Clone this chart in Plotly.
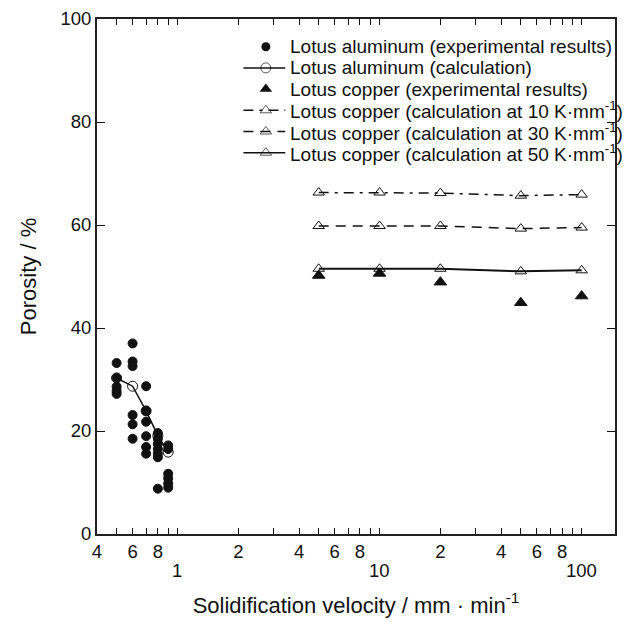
import math
import plotly.graph_objects as go

# ---- data ----
al_exp_x = [0.5]*5 + [0.6]*6 + [0.7]*6 + [0.8]*7 + [0.9]*6
al_exp_y = [33.2, 30.3, 28.6, 27.8, 27.2,
            37.0, 33.5, 32.6, 23.1, 21.3, 18.5,
            28.7, 23.9, 21.8, 19.0, 16.9, 15.6,
            19.6, 18.5, 17.5, 16.5, 15.6, 14.9, 8.8,
            17.2, 16.5, 11.7, 10.8, 9.8, 9.0]
al_calc_x = [0.5, 0.6, 0.7, 0.8, 0.9]
al_calc_y = [30.3, 28.7, 23.9, 19.1, 15.9]

cu_x = [5, 10, 20, 50, 100]
cu_exp_y = [50.2, 50.6, 48.9, 44.9, 46.2]
cu_10k_y = [66.3, 66.3, 66.2, 65.7, 65.9]
cu_30k_y = [59.8, 59.8, 59.8, 59.3, 59.5]
cu_50k_y = [51.5, 51.5, 51.5, 51.0, 51.2]

label_vals = [0.4, 0.6, 0.8, 2, 4, 6, 8, 20, 40, 60, 80]
label_text = ["4", "6", "8", "2", "4", "6", "8", "2", "4", "6", "8"]
minor_vals = [0.5, 0.7, 0.9, 1, 3, 5, 7, 9, 10, 30, 50, 70, 90, 100]
decade_vals = [1, 10, 100]
decade_text = ["1", "10", "100"]

legend_names = [
    "Lotus aluminum (experimental results)",
    "Lotus aluminum (calculation)",
    "Lotus copper (experimental results)",
    "Lotus copper (calculation at 10 K\u00b7mm<sup>-1</sup>)",
    "Lotus copper (calculation at 30 K\u00b7mm<sup>-1</sup>)",
    "Lotus copper (calculation at 50 K\u00b7mm<sup>-1</sup>)",
]

FONT = "Liberation Sans, Arial, Helvetica, sans-serif"
BLACK = "#111111"
DASHDOT = "10px,6px,3px,6px"
DASH = "10px,7px"

# style per legend entry: (line dash or None, line width, marker symbol, marker size)
styles = [
    (None, 0, "circle", 9),
    ("solid", 1.5, "circle-open", 10),
    (None, 0, "triangle-up", 11),
    (DASHDOT, 1.5, "triangle-up-open", 10),
    (DASH, 1.5, "triangle-up-open", 10),
    ("solid", 2, "triangle-up-open", 10),
]

fig = go.Figure()

series = [
    (al_exp_x, al_exp_y, 0),
    (al_calc_x, al_calc_y, 1),
    (cu_x, cu_exp_y, 2),
    (cu_x, cu_10k_y, 3),
    (cu_x, cu_30k_y, 4),
    (cu_x, cu_50k_y, 5),
]
draw_order = [1, 0, 2, 3, 4, 5]
for i in draw_order:
    xs, ys, k = series[i]
    dash, lw, sym, ms = styles[k]
    mode = "markers" if dash is None else "lines+markers"
    kw = dict(x=xs, y=ys, mode=mode, name=legend_names[k], showlegend=False,
              marker=dict(symbol=sym, size=ms, color=BLACK,
                          line=dict(width=1, color=BLACK)))
    if dash is not None:
        kw["line"] = dict(color=BLACK, width=lw, dash=dash)
    fig.add_trace(go.Scatter(**kw))

# ---- hand-made legend on an overlay axis in pixel units ----
LEG_X0, LEG_XM, LEG_X1, LEG_TX = 244, 266.5, 286, 289
LEG_Y0, LEG_DY = 44, 21.4
for k, name in enumerate(legend_names):
    dash, lw, sym, ms = styles[k]
    yy = LEG_Y0 + k * LEG_DY
    if dash is None:
        fig.add_trace(go.Scatter(x=[LEG_XM], y=[yy], mode="markers", xaxis="x2", yaxis="y2",
                                 showlegend=False, hoverinfo="skip",
                                 marker=dict(symbol=sym, size=ms, color=BLACK)))
    else:
        fig.add_trace(go.Scatter(x=[LEG_X0, LEG_XM, LEG_X1], y=[yy, yy, yy], mode="lines+markers",
                                 xaxis="x2", yaxis="y2", showlegend=False, hoverinfo="skip",
                                 line=dict(color=BLACK, width=1.5, dash=dash),
                                 marker=dict(symbol=sym, size=[0, ms, 0], color=BLACK,
                                             line=dict(width=1, color=BLACK))))
    fig.add_annotation(x=LEG_TX, y=yy, xref="x2", yref="y2", text=name, showarrow=False,
                       xanchor="left", yanchor="middle",
                       font=dict(family=FONT, size=19, color=BLACK))

for v, t in zip(decade_vals, decade_text):
    fig.add_annotation(x=math.log10(v), xref="x", y=0, yref="paper", text=t, showarrow=False,
                       yanchor="middle", yshift=-36, font=dict(family=FONT, size=18.5, color=BLACK))

fig.update_layout(
    xaxis=dict(type="log", range=[-0.398, 2.165],
               tickmode="array", tickvals=label_vals, ticktext=label_text,
               ticks="inside", ticklen=6, tickwidth=1, tickcolor=BLACK,
               minor=dict(tickmode="array", tickvals=minor_vals, ticks="inside",
                          ticklen=6, tickwidth=1, tickcolor=BLACK, showgrid=False),
               showline=True, linecolor="#222222", linewidth=2, mirror="allticks",
               showgrid=False, zeroline=False,
               tickfont=dict(family=FONT, size=18.5, color=BLACK),
               title=dict(text="Solidification velocity / mm \u00b7 min<sup>-1</sup>",
                          font=dict(family=FONT, size=22, color=BLACK), standoff=36)),
    yaxis=dict(range=[0, 100], tickmode="array", tickvals=[0, 20, 40, 60, 80, 100],
               ticks="inside", ticklen=8, tickwidth=1, tickcolor=BLACK,
               showline=True, linecolor="#222222", linewidth=2, mirror="allticks",
               showgrid=False, zeroline=False,
               tickfont=dict(family=FONT, size=18.5, color=BLACK),
               title=dict(text="Porosity / %", font=dict(family=FONT, size=22, color=BLACK),
                          standoff=18)),
    xaxis2=dict(overlaying="x", range=[97, 617], visible=False, fixedrange=True),
    yaxis2=dict(overlaying="y", range=[536, 16], visible=False, fixedrange=True),
    width=625, height=622,
    margin=dict(l=97, r=8, t=16, b=86),
    paper_bgcolor="white", plot_bgcolor="white",
    showlegend=False,
)

fig.write_html("out.html")
